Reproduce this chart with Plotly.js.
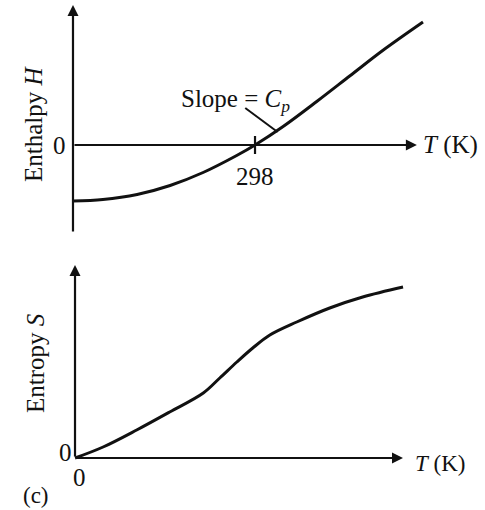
<!DOCTYPE html>
<html>
<head>
<meta charset="utf-8">
<script src="https://cdn.plot.ly/plotly-3.0.1.min.js"></script>
<style>html,body{margin:0;padding:0;background:#fff;}#chart{width:485px;height:510px;}</style>
</head>
<body>
<div id="chart"></div>
<script>
// Enthalpy curve (T in K, H arbitrary units)
const T_H = [0, 49, 105, 159, 213, 268, 298, 344, 399, 453, 507, 573];
const H = [-56, -54.5, -49.5, -40.5, -27.5, -10.5, 0, 18.5, 43.5, 69, 94.5, 123];
// Entropy curve (T arbitrary, S arbitrary units)
const T_S = [0, 46, 101, 155, 210, 237, 265, 291, 319, 363, 417, 471, 537];
const S = [0, 11, 28, 46, 65, 80, 96, 110, 123, 136, 150, 161, 171];
// reference temperature tick
const refT = 298;
const refTLabel = "298";
// leader line for the slope label
const slopeLeaderT = [282, 335];
const slopeLeaderH = [37, 13];
// axis extents
const hAxisT = [0, 563];
const hAxisH = [-88, 140];
const sAxisT = [0, 537];
const sAxisS = [0, 193];

const FONT = "Liberation Serif, Times New Roman, serif";
const INK = "#111";

const traces = [
  {x: T_H, y: H, xaxis: "x", yaxis: "y", mode: "lines",
   line: {color: INK, width: 3, shape: "spline", smoothing: 1}, hoverinfo: "skip"},
  {x: slopeLeaderT, y: slopeLeaderH, xaxis: "x", yaxis: "y", mode: "lines",
   line: {color: INK, width: 2}, hoverinfo: "skip"},
  {x: T_S, y: S, xaxis: "x2", yaxis: "y2", mode: "lines",
   line: {color: INK, width: 3, shape: "spline", smoothing: 1}, hoverinfo: "skip"}
];

function arrow(xr, yr, x, y, ax, ay) {
  return {xref: xr, yref: yr, axref: xr, ayref: yr, x: x, y: y, ax: ax, ay: ay,
          text: "", showarrow: true, arrowhead: 2, arrowsize: 1, arrowwidth: 2.2,
          arrowcolor: INK, standoff: 0, startstandoff: 0};
}
function txt(xr, yr, x, y, t, opts) {
  return Object.assign({xref: xr, yref: yr, x: x, y: y, text: t, showarrow: false,
    font: {family: FONT, size: 25, color: INK}, xanchor: "center", yanchor: "middle"}, opts || {});
}

const annotations = [
  arrow("x", "y", hAxisT[1], 0, hAxisT[0], 0),
  arrow("x", "y", 0, hAxisH[1], 0, hAxisH[0]),
  arrow("x2", "y2", sAxisT[1], 0, sAxisT[0], 0),
  arrow("x2", "y2", 0, sAxisS[1], 0, sAxisS[0]),
  txt("x", "y", -8, 0, "0", {xanchor: "right"}),
  txt("x", "y", refT, -31, refTLabel),
  txt("x", "y", 570, 0, "<i>T</i> (K)", {xanchor: "left"}),
  txt("x", "y", 174, 45, "Slope = <i>C</i><sub><i>p</i></sub>", {xanchor: "left"}),
  txt("paper", "paper", 33/485, 1 - 124/510, "Enthalpy <i>H</i>", {textangle: -90}),
  txt("x2", "y2", -16, 6, "0"),
  txt("x2", "y2", 8, -19, "0"),
  txt("x2", "y2", 553, -5, "<i>T</i> (K)", {xanchor: "left", font: {family: FONT, size: 23, color: INK}}),
  txt("paper", "paper", 35/485, 1 - 363/510, "Entropy <i>S</i>", {textangle: -90}),
  txt("paper", "paper", 36/485, 1 - 495/510, "(c)", {font: {family: FONT, size: 23, color: INK}})
];

const shapes = [
  {type: "line", xref: "x", yref: "y", x0: refT, x1: refT, y0: -9, y1: 9,
   line: {color: INK, width: 2.2}}
];

const hidden = {visible: false, fixedrange: true};
const layout = {
  width: 485, height: 510,
  margin: {l: 0, r: 0, t: 0, b: 0},
  paper_bgcolor: "#fff", plot_bgcolor: "rgba(0,0,0,0)",
  showlegend: false,
  xaxis: Object.assign({domain: [0, 1], range: [-119.5, 674.5], anchor: "y"}, hidden),
  yaxis: Object.assign({domain: [1 - 240/510, 1], range: [-95, 145], anchor: "x"}, hidden),
  xaxis2: Object.assign({domain: [0, 1], range: [-122.8, 671.2], anchor: "y2"}, hidden),
  yaxis2: Object.assign({domain: [0, 260/510], range: [-52, 208], anchor: "x2"}, hidden),
  annotations: annotations,
  shapes: shapes
};

Plotly.newPlot("chart", traces, layout, {displayModeBar: false, staticPlot: true});
</script>
</body>
</html>
